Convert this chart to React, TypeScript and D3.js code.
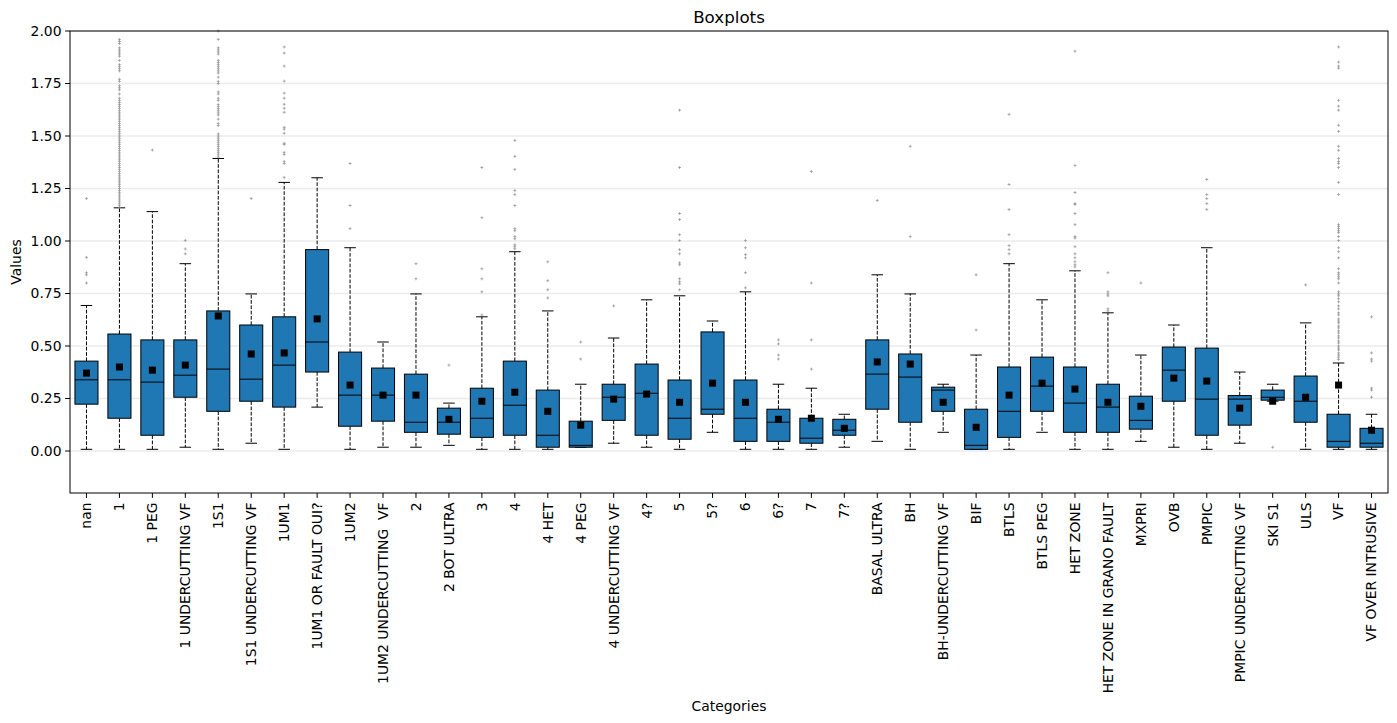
import * as d3 from "d3";

const categories = [
  "nan", "1", "1 PEG", "1 UNDERCUTTING VF", "1S1", "1S1 UNDERCUTTING VF", "1UM1",
  "1UM1 OR FAULT OUI?", "1UM2", "1UM2 UNDERCUTTING  VF", "2", "2 BOT ULTRA", "3", "4",
  "4 HET", "4 PEG", "4 UNDERCUTTING VF", "4?", "5", "5?", "6", "6?", "7", "7?",
  "BASAL ULTRA", "BH", "BH-UNDERCUTTING VF", "BIF", "BTLS", "BTLS PEG", "HET ZONE",
  "HET ZONE IN GRANO FAULT", "MXPRI", "OVB", "PMPIC", "PMPIC UNDERCUTTING VF", "SKI S1",
  "ULS", "VF", "VF OVER INTRUSIVE",
];

const whiskerLow = [
  0.008, 0.008, 0.008, 0.018, 0.008, 0.037, 0.008, 0.209, 0.008, 0.018,
  0.018, 0.027, 0.008, 0.008, 0.008, 0.018, 0.037, 0.018, 0.008, 0.089,
  0.008, 0.008, 0.008, 0.018, 0.046, 0.008, 0.089, 0.008, 0.008, 0.089,
  0.008, 0.008, 0.046, 0.018, 0.008, 0.037, 0.237, 0.008, 0.008, 0.008,
];
const q1 = [
  0.223, 0.156, 0.075, 0.256, 0.189, 0.237, 0.209, 0.376, 0.118, 0.142,
  0.089, 0.08, 0.065, 0.075, 0.018, 0.018, 0.146, 0.075, 0.056, 0.175,
  0.046, 0.046, 0.037, 0.075, 0.199, 0.137, 0.189, 0.008, 0.065, 0.189,
  0.089, 0.089, 0.104, 0.237, 0.075, 0.123, 0.242, 0.137, 0.018, 0.018,
];
const medians = [
  0.339, 0.339, 0.328, 0.361, 0.39, 0.342, 0.409, 0.519, 0.266, 0.266,
  0.137, 0.137, 0.156, 0.218, 0.075, 0.027, 0.256, 0.275, 0.156, 0.199,
  0.156, 0.137, 0.061, 0.099, 0.366, 0.352, 0.29, 0.027, 0.189, 0.309,
  0.228, 0.209, 0.146, 0.385, 0.247, 0.247, 0.256, 0.237, 0.046, 0.037,
];
const q3 = [
  0.428, 0.557, 0.529, 0.529, 0.667, 0.6, 0.639, 0.959, 0.471, 0.395,
  0.366, 0.204, 0.299, 0.428, 0.29, 0.142, 0.318, 0.414, 0.338, 0.567,
  0.338, 0.199, 0.156, 0.151, 0.529, 0.462, 0.304, 0.199, 0.4, 0.447,
  0.4, 0.318, 0.261, 0.495, 0.49, 0.264, 0.29, 0.357, 0.175, 0.108,
];
const whiskerHigh = [
  0.693, 1.158, 1.14, 0.892, 1.393, 0.748, 1.279, 1.301, 0.968, 0.519,
  0.748, 0.228, 0.639, 0.949, 0.667, 0.318, 0.538, 0.72, 0.739, 0.619,
  0.758, 0.318, 0.299, 0.175, 0.839, 0.748, 0.318, 0.457, 0.892, 0.72,
  0.858, 0.658, 0.457, 0.6, 0.968, 0.376, 0.318, 0.61, 0.419, 0.175,
];
const means = [
  0.371, 0.4, 0.385, 0.409, 0.643, 0.462, 0.467, 0.629, 0.314, 0.266,
  0.266, 0.151, 0.237, 0.28, 0.189, 0.123, 0.247, 0.271, 0.232, 0.323,
  0.232, 0.151, 0.156, 0.108, 0.424, 0.414, 0.232, 0.113, 0.266, 0.323,
  0.295, 0.232, 0.213, 0.347, 0.333, 0.204, 0.237, 0.256, 0.314, 0.099,
];

const outliers: number[][] = [
  [1.202, 0.922, 0.849, 0.839, 0.8],
  [1.16, 1.17, 1.18, 1.19, 1.2, 1.21, 1.22, 1.23, 1.24, 1.25, 1.26, 1.27, 1.28, 1.29, 1.3,
   1.31, 1.32, 1.33, 1.34, 1.35, 1.36, 1.37, 1.38, 1.39, 1.4, 1.41, 1.42, 1.43, 1.44, 1.45,
   1.46, 1.47, 1.48, 1.49, 1.5, 1.51, 1.52, 1.53, 1.54, 1.55, 1.56, 1.57, 1.58, 1.59, 1.6,
   1.61, 1.62, 1.63, 1.64, 1.65, 1.66, 1.67, 1.68, 1.7, 1.72, 1.73, 1.74, 1.76, 1.77, 1.81,
   1.82, 1.83, 1.84, 1.86, 1.88, 1.89, 1.9, 1.91, 1.92, 1.94, 1.95, 1.96],
  [1.433],
  [1.003, 0.962, 0.939],
  [1.4, 1.41, 1.42, 1.43, 1.44, 1.45, 1.46, 1.47, 1.48, 1.49, 1.5, 1.51, 1.55, 1.56, 1.58,
   1.6, 1.61, 1.62, 1.63, 1.64, 1.65, 1.67, 1.68, 1.7, 1.71, 1.75, 1.76, 1.78, 1.8, 1.81,
   1.82, 1.83, 1.84, 1.85, 1.86, 1.89, 1.9, 1.91, 1.92, 1.96, 2.0],
  [1.202],
  [1.924, 1.895, 1.833, 1.761, 1.704, 1.68, 1.651, 1.632, 1.613, 1.541, 1.532, 1.513, 1.465,
   1.46, 1.422, 1.412, 1.379, 1.369, 1.303],
  [],
  [1.369, 1.169, 1.059],
  [],
  [0.892, 0.82],
  [0.409],
  [1.35, 1.111, 0.868, 0.82, 0.758, 0.648],
  [1.479, 1.403, 1.341, 1.24, 1.221, 1.169, 1.059, 1.049, 1.021, 1.011, 0.982, 0.973, 0.963],
  [0.901, 0.811, 0.768, 0.729],
  [0.519, 0.438],
  [0.691],
  [],
  [1.623, 1.35, 1.131, 1.102, 1.03, 1.002, 0.959, 0.939, 0.896, 0.887, 0.82, 0.806, 0.796, 0.768],
  [],
  [1.002, 0.968, 0.935, 0.92, 0.849, 0.777],
  [0.529, 0.51, 0.457, 0.438],
  [1.331, 0.8, 0.529, 0.39],
  [],
  [1.193],
  [1.451, 1.021],
  [],
  [0.839, 0.576],
  [1.603, 1.269, 1.15, 1.03, 0.978, 0.959, 0.939],
  [],
  [1.904, 1.36, 1.231, 1.178, 1.174, 1.131, 1.078, 1.021, 1.014, 0.973, 0.939, 0.92, 0.901,
   0.887, 0.877],
  [0.849, 0.758, 0.748, 0.739, 0.677, 0.667],
  [0.8],
  [],
  [1.293, 1.221, 1.202, 1.178, 1.15],
  [],
  [0.018],
  [0.791],
  [1.924, 1.852, 1.833, 1.823, 1.67, 1.642, 1.623, 1.551, 1.522, 1.451, 1.432, 1.393, 1.379,
   1.369, 1.35, 1.279, 1.221, 1.078, 1.069, 1.059, 1.049, 1.04, 1.021, 1.002, 0.968, 0.949,
   0.92, 0.868, 0.849, 0.839, 0.829, 0.82, 0.8, 0.758, 0.748, 0.739, 0.725, 0.71, 0.691,
   0.677, 0.658, 0.648, 0.629, 0.619, 0.61, 0.595, 0.586, 0.572, 0.562, 0.548, 0.538, 0.524,
   0.514, 0.5, 0.49, 0.481, 0.467, 0.457, 0.447, 0.436],
  [0.639, 0.467, 0.438, 0.428, 0.299, 0.29, 0.256],
];

const yTicks = [0, 0.25, 0.5, 0.75, 1.0, 1.25, 1.5, 1.75, 2.0];

const W = 1397;
const H = 723;
const left = 70;
const right = 1388;
const top = 31;
const bottom = 493;
const font = "DejaVu Sans, sans-serif";

export default function App() {
  const x = d3.scaleBand<string>().domain(categories).range([left, right]).padding(0);
  const y = d3.scaleLinear().domain([-0.2, 2.0]).range([bottom, top]);
  const bw = x.bandwidth();
  const boxW = bw * 0.7;
  const capW = boxW / 2;
  const fmt = d3.format(".2f");

  return (
    <svg
      width={W}
      height={H}
      style={{ position: "absolute", left: 0, top: 0, background: "#fff", fontFamily: font }}
    >
      {/* grid */}
      {yTicks.map((t) => (
        <line key={"g" + t} x1={left} x2={right} y1={y(t)} y2={y(t)} stroke="#ebebeb" strokeWidth={1.5} />
      ))}

      {categories.map((c, i) => {
        const cx = x(c)! + bw / 2;
        return (
          <g key={c}>
            <line x1={cx} x2={cx} y1={y(q3[i])} y2={y(whiskerHigh[i])} stroke="#000" strokeDasharray="3.7,1.6" />
            <line x1={cx} x2={cx} y1={y(q1[i])} y2={y(whiskerLow[i])} stroke="#000" strokeDasharray="3.7,1.6" />
            <line x1={cx - capW / 2} x2={cx + capW / 2} y1={y(whiskerHigh[i])} y2={y(whiskerHigh[i])} stroke="#000" />
            <line x1={cx - capW / 2} x2={cx + capW / 2} y1={y(whiskerLow[i])} y2={y(whiskerLow[i])} stroke="#000" />
            <rect
              x={cx - boxW / 2}
              y={y(q3[i])}
              width={boxW}
              height={Math.max(0.5, y(q1[i]) - y(q3[i]))}
              fill="#1f77b4"
              stroke="#000"
              strokeWidth={1}
            />
            <line x1={cx - boxW / 2} x2={cx + boxW / 2} y1={y(medians[i])} y2={y(medians[i])} stroke="#000" />
            {outliers[i].map((v, j) => (
              <path
                key={j}
                d={`M${cx - 1.5},${y(v)}h3M${cx},${y(v) - 1.5}v3`}
                stroke="#888"
                strokeOpacity={0.7}
                strokeWidth={0.9}
              />
            ))}
            <rect x={cx - 3.5} y={y(means[i]) - 3.5} width={7} height={7} fill="#000" />
          </g>
        );
      })}

      {/* frame */}
      <rect x={left} y={top} width={right - left} height={bottom - top} fill="none" stroke="#000" strokeWidth={1} />

      {/* y axis */}
      {yTicks.map((t) => (
        <g key={"y" + t}>
          <line x1={left - 4.9} x2={left} y1={y(t)} y2={y(t)} stroke="#000" />
          <text x={left - 8.5} y={y(t)} dy="0.35em" textAnchor="end" fontSize={13.9} fill="#000">
            {fmt(t)}
          </text>
        </g>
      ))}

      {/* x axis */}
      {categories.map((c) => {
        const cx = x(c)! + bw / 2;
        return (
          <g key={"x" + c}>
            <line x1={cx} x2={cx} y1={bottom} y2={bottom + 4.9} stroke="#000" />
            <text
              transform={`translate(${cx},${bottom + 9.5}) rotate(-90)`}
              dy="0.35em"
              textAnchor="end"
              fontSize={13.9}
              fill="#000"
              style={{ whiteSpace: "pre" }}
            >
              {c}
            </text>
          </g>
        );
      })}

      <text x={(left + right) / 2} y={23} textAnchor="middle" fontSize={16.7} fill="#000">
        Boxplots
      </text>
      <text x={(left + right) / 2} y={711} textAnchor="middle" fontSize={13.9} fill="#000">
        Categories
      </text>
      <text
        transform={`translate(20.5,${(top + bottom) / 2}) rotate(-90)`}
        textAnchor="middle"
        fontSize={13.9}
        fill="#000"
      >
        Values
      </text>
    </svg>
  );
}
